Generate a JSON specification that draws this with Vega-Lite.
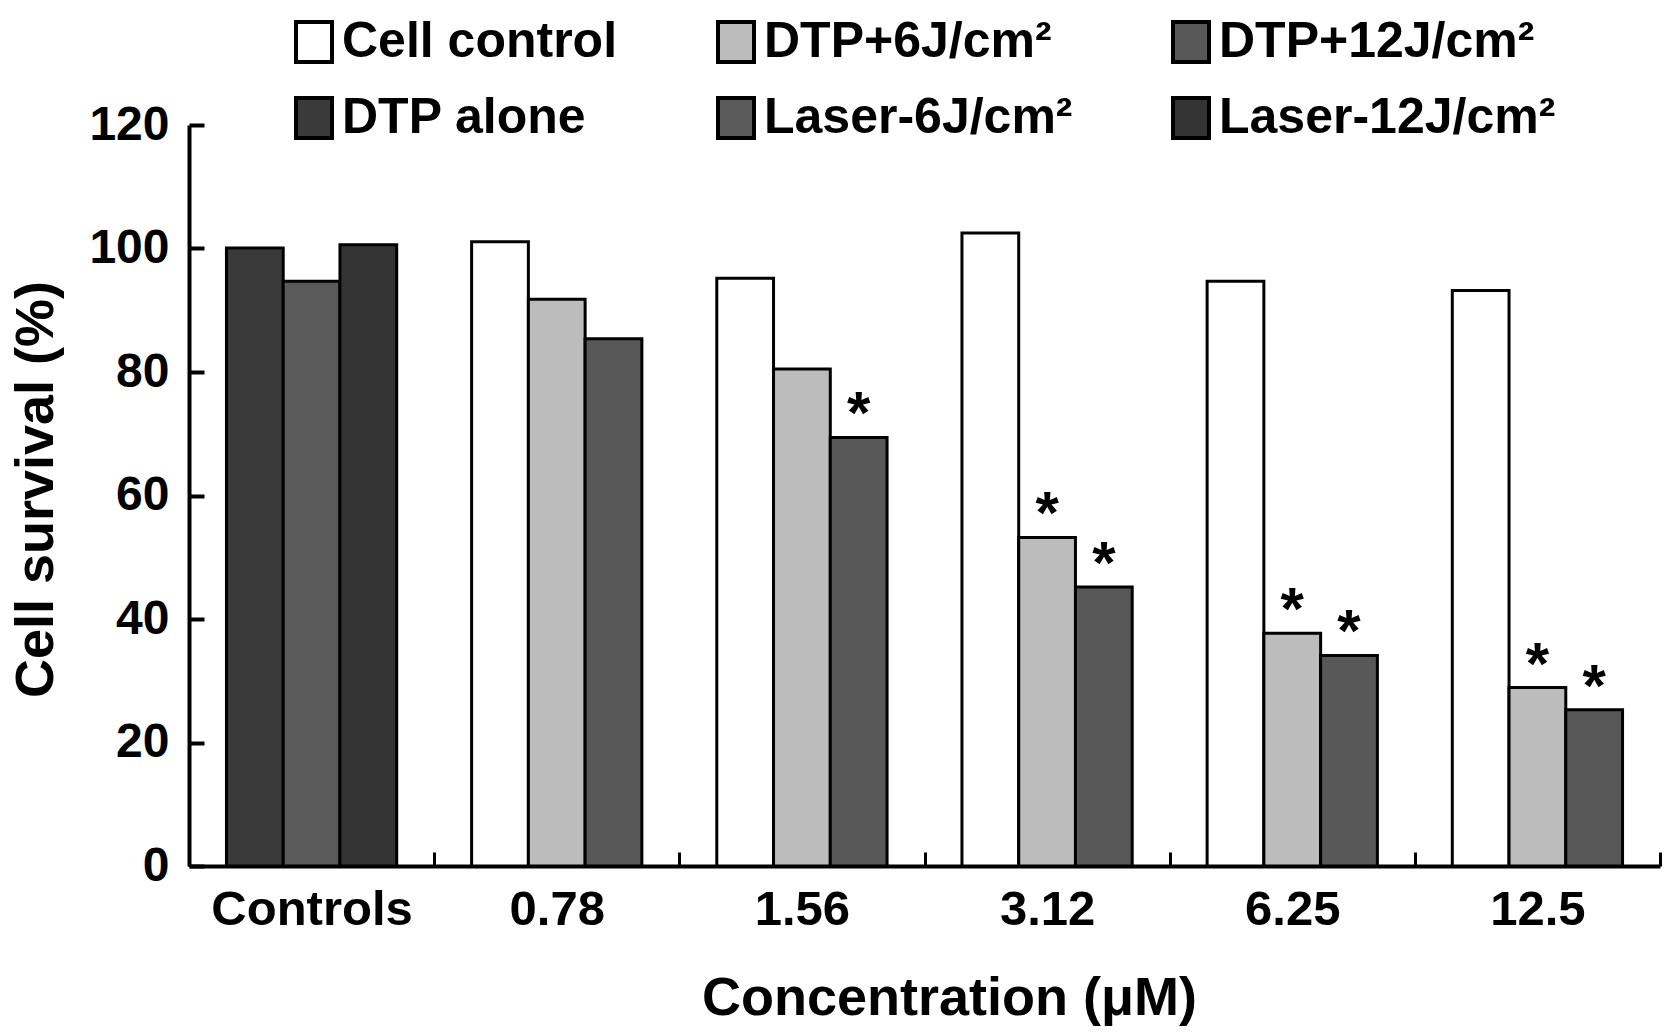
{
  "$schema": "https://vega.github.io/schema/vega-lite/v6.json",
  "width": 1471,
  "height": 741,
  "autosize": {"type": "none"},
  "padding": {"left": 189, "top": 125, "right": 17, "bottom": 169},
  "background": "white",
  "data": {
    "values": [
      {"conc": "Controls", "series": "DTP alone", "fluence": 0, "survival": 100.1, "sig": false},
      {"conc": "Controls", "series": "Laser-6J/cm²", "fluence": 6, "survival": 94.7, "sig": false},
      {"conc": "Controls", "series": "Laser-12J/cm²", "fluence": 12, "survival": 100.6, "sig": false},
      {"conc": "0.78", "series": "Cell control", "fluence": 0, "survival": 101.1, "sig": false},
      {"conc": "0.78", "series": "DTP+6J/cm²", "fluence": 6, "survival": 91.8, "sig": false},
      {"conc": "0.78", "series": "DTP+12J/cm²", "fluence": 12, "survival": 85.4, "sig": false},
      {"conc": "1.56", "series": "Cell control", "fluence": 0, "survival": 95.2, "sig": false},
      {"conc": "1.56", "series": "DTP+6J/cm²", "fluence": 6, "survival": 80.5, "sig": false},
      {"conc": "1.56", "series": "DTP+12J/cm²", "fluence": 12, "survival": 69.4, "sig": true},
      {"conc": "3.12", "series": "Cell control", "fluence": 0, "survival": 102.5, "sig": false},
      {"conc": "3.12", "series": "DTP+6J/cm²", "fluence": 6, "survival": 53.2, "sig": true},
      {"conc": "3.12", "series": "DTP+12J/cm²", "fluence": 12, "survival": 45.2, "sig": true},
      {"conc": "6.25", "series": "Cell control", "fluence": 0, "survival": 94.7, "sig": false},
      {"conc": "6.25", "series": "DTP+6J/cm²", "fluence": 6, "survival": 37.7, "sig": true},
      {"conc": "6.25", "series": "DTP+12J/cm²", "fluence": 12, "survival": 34.1, "sig": true},
      {"conc": "12.5", "series": "Cell control", "fluence": 0, "survival": 93.2, "sig": false},
      {"conc": "12.5", "series": "DTP+6J/cm²", "fluence": 6, "survival": 28.9, "sig": true},
      {"conc": "12.5", "series": "DTP+12J/cm²", "fluence": 12, "survival": 25.3, "sig": true}
    ]
  },
  "encoding": {
    "x": {
      "field": "conc",
      "type": "nominal",
      "sort": ["Controls", "0.78", "1.56", "3.12", "6.25", "12.5"],
      "scale": {"paddingInner": 0, "paddingOuter": 0},
      "axis": {
        "title": "Concentration (μM)",
        "titleFontSize": 54,
        "titleBaseline": "alphabetic",
        "titleX": 760,
        "titleY": 148,
        "titleAlign": "center",
        "labelAngle": 0,
        "labelFontSize": 49,
        "labelBaseline": "alphabetic",
        "labelPadding": 72,
        "labelLimit": 400,
        "tickBand": "extent",
        "tickSize": -14,
        "tickWidth": 3,
        "domainWidth": 4
      }
    },
    "xOffset": {
      "field": "fluence",
      "type": "ordinal",
      "scale": {"paddingInner": 0, "paddingOuter": 0.66}
    },
    "y": {
      "field": "survival",
      "type": "quantitative",
      "scale": {"domain": [0, 120], "nice": false},
      "axis": {
        "title": "Cell survival (%)",
        "titleFontSize": 54,
        "titleBaseline": "alphabetic",
        "titleX": -137,
        "titleY": 364,
        "titleAlign": "center",
        "values": [0, 20, 40, 60, 80, 100, 120],
        "labelFontSize": 48,
        "labelPadding": 35,
        "tickSize": -15,
        "tickWidth": 4,
        "domainWidth": 4,
        "grid": false
      }
    }
  },
  "layer": [
    {
      "mark": {"type": "bar", "stroke": "black", "strokeWidth": 3, "opacity": 1},
      "encoding": {
        "color": {
          "field": "series",
          "type": "nominal",
          "scale": {
            "domain": ["Cell control", "DTP alone", "DTP+6J/cm²", "Laser-6J/cm²", "DTP+12J/cm²", "Laser-12J/cm²"],
            "range": ["#ffffff", "#3a3a3a", "#bcbcbc", "#5a5a5a", "#585858", "#343434"]
          },
          "legend": {
            "title": null,
            "orient": "none",
            "legendX": 100,
            "legendY": -108,
            "columns": 3,
            "columnPadding": 92,
            "rowPadding": 20,
            "padding": 0,
            "labelFontSize": 50,
            "labelOffset": 3,
            "labelLimit": 600,
            "symbolType": "M-0.9,-1H0.9V1H-0.9Z",
            "symbolSize": 1600,
            "symbolStrokeColor": "black",
            "symbolStrokeWidth": 4,
            "symbolOpacity": 1
          }
        }
      }
    },
    {
      "transform": [{"filter": "datum.sig"}],
      "mark": {"type": "text", "text": "*", "fontSize": 60, "fontWeight": "bold", "baseline": "alphabetic", "dy": -4, "color": "black"}
    }
  ],
  "config": {
    "font": "Liberation Sans",
    "view": {"stroke": null},
    "axis": {
      "labelFont": "Liberation Sans",
      "labelFontWeight": "bold",
      "labelColor": "black",
      "titleFont": "Liberation Sans",
      "titleFontWeight": "bold",
      "titleColor": "black",
      "domainColor": "black",
      "tickColor": "black"
    },
    "legend": {
      "labelFont": "Liberation Sans",
      "labelFontWeight": "bold",
      "labelColor": "black"
    }
  }
}
